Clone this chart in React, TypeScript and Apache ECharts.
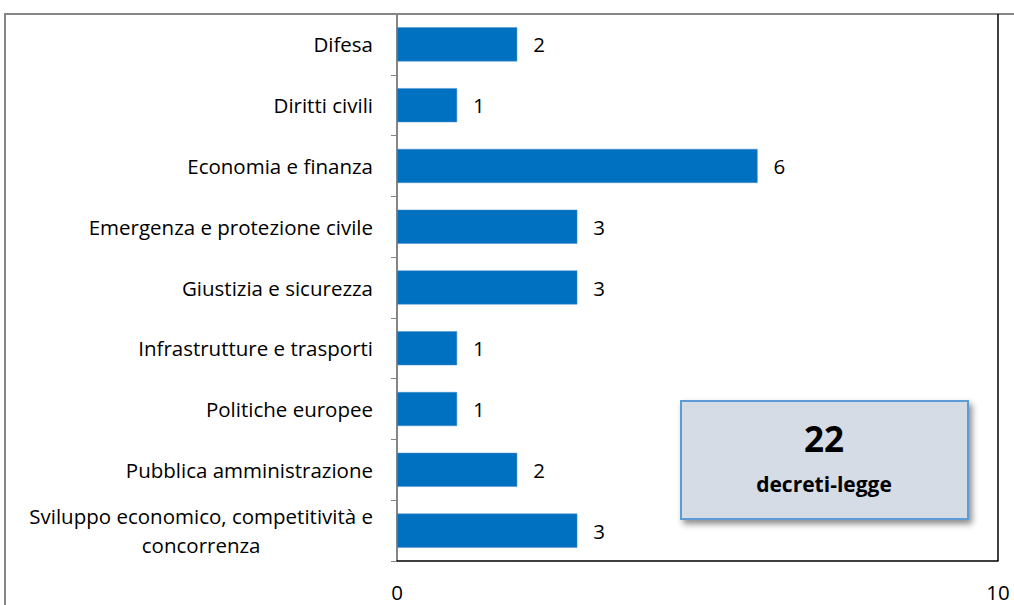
import React, { useEffect, useRef } from "react";
import * as echarts from "echarts";

const categories = [
  "Difesa",
  "Diritti civili",
  "Economia e finanza",
  "Emergenza e protezione civile",
  "Giustizia e sicurezza",
  "Infrastrutture e trasporti",
  "Politiche europee",
  "Pubblica amministrazione",
  "Sviluppo economico, competitività e\nconcorrenza",
];
const values = [2, 1, 6, 3, 3, 1, 1, 2, 3];
const totalNumber = "22";
const totalLabel = "decreti-legge";
const xMin = 0;
const xMax = 10;

const FONT = "Open Sans";
const FS = 20.5;

export default function App() {
  const ref = useRef<HTMLDivElement>(null);
  useEffect(() => {
    document.body.style.margin = "0";
    if (!ref.current) return;
    const chart = echarts.init(ref.current, undefined, { renderer: "svg" });

    const ctx = document.createElement("canvas").getContext("2d")!;
    ctx.font = `${FS}px "${FONT}"`;
    const maxLineWidth = (s: string) =>
      Math.max(...s.split("\n").map((l) => ctx.measureText(l).width));

    chart.setOption({
      animation: false,
      textStyle: { fontFamily: FONT },
      grid: { left: 397, right: 16, top: 14, bottom: 44, containLabel: false },
      xAxis: {
        type: "value",
        min: xMin,
        max: xMax,
        interval: 10,
        splitLine: { show: false },
        axisTick: { show: false },
        axisLine: { show: true, lineStyle: { color: "#000", width: 1.5 } },
        axisLabel: { fontSize: FS, lineHeight: 20, color: "#000", margin: 21, fontFamily: FONT },
      },
      yAxis: {
        type: "category",
        inverse: true,
        data: categories,
        axisLine: { show: true, lineStyle: { color: "#868686", width: 2 } },
        axisTick: { show: true, length: 6, interval: 0, lineStyle: { color: "#868686" } },
        axisLabel: {
          interval: 0,
          margin: 24,
          fontSize: FS,
          color: "#000",
          fontFamily: FONT,
          lineHeight: 29,
          formatter: (v: string) =>
            v.includes("\n")
              ? v
                  .split("\n")
                  .map((l) => `{c|${l}}`)
                  .join("\n")
              : v,
          rich: {
            c: {
              fontSize: FS,
              fontFamily: FONT,
              color: "#000",
              lineHeight: 29,
              align: "center",
              width: maxLineWidth(categories[categories.length - 1]),
            },
          },
        },
      },
      series: [
        {
          type: "bar",
          data: values,
          barWidth: "56%",
          itemStyle: { color: "#0070c0", borderColor: "#4f8fd0", borderWidth: 0.5 },
          label: {
            show: true,
            position: "right",
            distance: 16,
            fontSize: FS,
            color: "#000",
            fontFamily: FONT,
          },
        },
      ],
      graphic: [
        {
          type: "line",
          shape: { x1: 4, y1: 14, x2: 1014, y2: 14 },
          style: { stroke: "#868686", lineWidth: 2 },
        },
        {
          type: "line",
          shape: { x1: 5, y1: 14, x2: 5, y2: 605 },
          style: { stroke: "#868686", lineWidth: 2 },
        },
        {
          type: "line",
          shape: { x1: 998, y1: 14, x2: 998, y2: 561 },
          style: { stroke: "#000", lineWidth: 1.5 },
        },
        {
          type: "rect",
          shape: { x: 681, y: 401, width: 287, height: 118 },
          style: {
            fill: "#d6dce5",
            stroke: "#5b9bd5",
            lineWidth: 2,
            shadowBlur: 6,
            shadowOffsetX: 3,
            shadowOffsetY: 4,
            shadowColor: "rgba(0,0,0,0.45)",
          },
        },
        {
          type: "text",
          x: 824,
          y: 438,
          style: {
            text: totalNumber,
            fontSize: 35,
            fontWeight: "bold",
            fontFamily: FONT,
            fill: "#000",
            align: "center",
            verticalAlign: "middle",
          },
        },
        {
          type: "text",
          x: 824,
          y: 484,
          style: {
            text: totalLabel,
            fontSize: 21,
            fontWeight: "bold",
            fontFamily: FONT,
            fill: "#000",
            align: "center",
            verticalAlign: "middle",
          },
        },
      ],
    });
    return () => chart.dispose();
  }, []);
  return <div ref={ref} style={{ width: 1014, height: 605 }} />;
}
